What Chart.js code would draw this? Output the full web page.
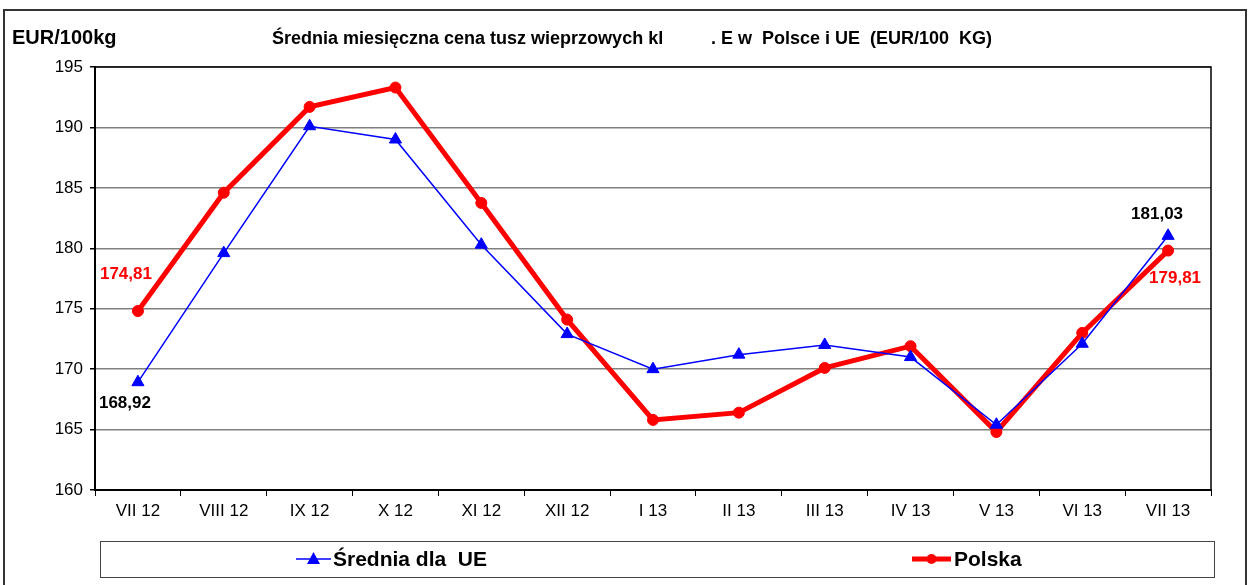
<!DOCTYPE html>
<html><head><meta charset="utf-8">
<script src="https://cdn.jsdelivr.net/npm/chart.js@4"></script>
<style>html,body{margin:0;padding:0;background:#fff;}canvas{display:block;}</style>
</head><body>
<canvas id="c" width="1250" height="585"></canvas>
<script>
const categories = ['VII 12','VIII 12','IX 12','X 12','XI 12','XII 12','I 13','II 13','III 13','IV 13','V 13','VI 13','VII 13'];
const euValues = [168.92,179.6,190.1,189.0,180.3,172.9,170.0,171.2,172.0,171.0,165.4,172.1,181.03];
const plValues = [174.81,184.6,191.7,193.3,183.75,174.1,165.8,166.4,170.1,171.9,164.8,173.0,179.81];
const euLabel = 'Średnia dla  UE';
const plLabel = 'Polska';
const titleA = 'Średnia miesięczna cena tusz wieprzowych kl';
const titleB = '. E w  Polsce i UE  (EUR/100  KG)';
const unitText = 'EUR/100kg';
const FONT = '"Liberation Sans", Arial, sans-serif';

const frame = {
  id:'frame',
  beforeDraw(chart){
    const c = chart.ctx;
    c.save();
    c.fillStyle='#fff'; c.fillRect(0,0,chart.width,chart.height);
    c.strokeStyle='#333'; c.lineWidth=2;
    c.strokeRect(4,10,1242,600);
    c.fillStyle='#000';
    c.font='bold 20px '+FONT; c.textBaseline='middle'; c.textAlign='left';
    c.fillText(unitText,12,38);
    c.font='bold 18px '+FONT;
    c.fillText(titleA,272,39);
    c.fillText(titleB,711,39);
    c.restore();
  },
  afterDraw(chart){
    const c = chart.ctx, a = chart.chartArea;
    c.save();
    c.strokeStyle='#000'; c.lineWidth=1.5;
    c.beginPath(); c.moveTo(a.left,a.top); c.lineTo(a.right,a.top); c.lineTo(a.right,a.bottom); c.stroke();
    c.strokeStyle='#444'; c.lineWidth=1;
    c.strokeRect(100.5,541.5,1114,36);
    const ly=559;
    const ds = chart.data.datasets;
    c.strokeStyle=ds[0].borderColor; c.lineWidth=1.5;
    c.beginPath(); c.moveTo(296,ly); c.lineTo(331,ly); c.stroke();
    c.fillStyle=ds[0].borderColor;
    c.beginPath(); c.moveTo(313.5,ly-7); c.lineTo(320,ly+5); c.lineTo(307,ly+5); c.closePath(); c.fill();
    c.strokeStyle=ds[1].borderColor; c.lineWidth=5;
    c.beginPath(); c.moveTo(912,ly); c.lineTo(951,ly); c.stroke();
    c.fillStyle=ds[1].borderColor;
    c.beginPath(); c.arc(931.5,ly,5,0,Math.PI*2); c.fill();
    c.fillStyle='#000'; c.font='bold 21px '+FONT; c.textAlign='left'; c.textBaseline='middle';
    c.fillText(ds[0].label,333,ly+1);
    c.fillText(ds[1].label,954,ly+1);
    c.font='bold 17px '+FONT; c.textAlign='center';
    const m0 = chart.getDatasetMeta(0).data, m1 = chart.getDatasetMeta(1).data;
    const last = categories.length-1;
    const fmt = v => v.toFixed(2).replace('.',',');
    c.fillStyle='#000';
    c.fillText(fmt(euValues[0]), m0[0].x-13, m0[0].y+21);
    c.fillText(fmt(euValues[last]), m0[last].x-11, m0[last].y-22);
    c.fillStyle='#ff0000';
    c.fillText(fmt(plValues[0]), m1[0].x-12, m1[0].y-37);
    c.fillText(fmt(plValues[last]), m1[last].x+7, m1[last].y+28);
    c.restore();
  }
};

new Chart(document.getElementById('c'), {
  type:'line',
  data:{
    labels: categories,
    datasets:[
      {label:euLabel, data:euValues, borderColor:'#0000ff', backgroundColor:'#0000ff', borderWidth:1.5,
       pointStyle:'triangle', pointRadius:7, pointHoverRadius:7, pointBorderWidth:1, tension:0},
      {label:plLabel, data:plValues, borderColor:'#ff0000', backgroundColor:'#ff0000', borderWidth:5,
       pointStyle:'circle', pointRadius:5.5, pointHoverRadius:5.5, pointBorderWidth:1, tension:0}
    ]
  },
  options:{
    responsive:false, animation:false,
    layout:{padding:{top:67,right:39,left:0,bottom:0}},
    plugins:{legend:{display:false}, tooltip:{enabled:false}, title:{display:false}},
    scales:{
      x:{
        offset:true,
        grid:{display:true, offset:true, drawOnChartArea:false, drawTicks:true, tickLength:6, color:'#000', lineWidth:1},
        border:{display:true, color:'#000', width:2},
        ticks:{color:'#000', font:{family:FONT, size:17}, padding:5, maxRotation:0, autoSkip:false},
        afterFit(s){ s.height = 95; }
      },
      y:{
        min:160, max:195,
        grid:{color:'#808080', lineWidth:1.5, drawTicks:true, tickLength:5, tickColor:'#000'},
        border:{display:true, color:'#000', width:2},
        ticks:{stepSize:5, color:'#000', font:{family:FONT, size:17}, padding:7},
        afterFit(s){ s.width = 95; }
      }
    }
  },
  plugins:[frame]
});
</script>
</body></html>
